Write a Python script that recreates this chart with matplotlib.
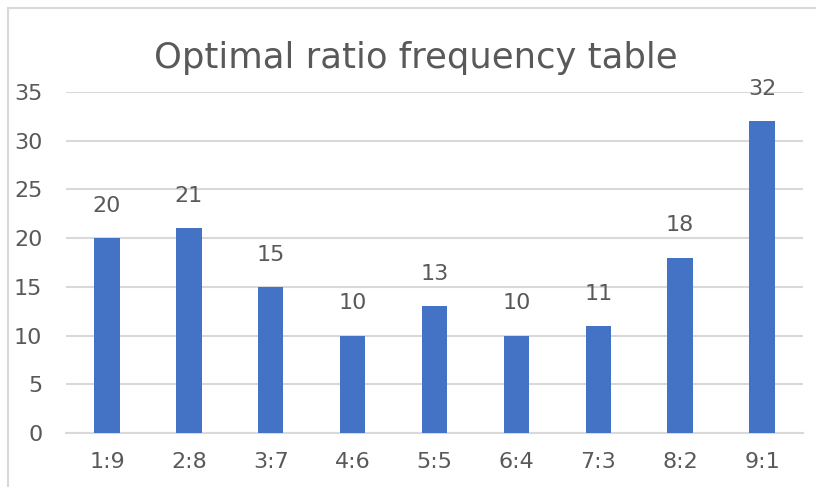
import matplotlib.pyplot as plt
from matplotlib.patches import Rectangle

ratios = ['1:9', '2:8', '3:7', '4:6', '5:5', '6:4', '7:3', '8:2', '9:1']
counts = [20, 21, 15, 10, 13, 10, 11, 18, 32]
yticks = [0, 5, 10, 15, 20, 25, 30, 35]

text_col = '#595959'
grid_col = '#d9d9d9'
bar_col = '#4472c4'

plt.rcParams['font.family'] = ['DejaVu Sans']

fig = plt.figure(figsize=(8.16, 4.87), dpi=100)
ax = fig.add_axes([66/816, 54/487, 737/816, 341/487])

x = range(len(ratios))
bars = ax.bar(x, counts, width=0.31, color=bar_col, zorder=3)
for b, v in zip(bars, counts):
    ax.annotate(str(v), (b.get_x() + b.get_width()/2, v), xytext=(0, 16), textcoords='offset points',
                ha='center', va='bottom', fontsize=16, color=text_col)

ax.set_xlim(-0.5, len(ratios) - 0.5)
ax.set_ylim(0, 35)
ax.set_yticks(yticks)
ax.set_xticks(list(x))
ax.set_xticklabels(ratios)
ax.yaxis.grid(True, color=grid_col, linewidth=1.5, zorder=0)
for s in ['top', 'right', 'left']:
    ax.spines[s].set_visible(False)
ax.spines['bottom'].set_color(grid_col)
ax.spines['bottom'].set_linewidth(1.5)
ax.tick_params(axis='both', length=0, labelsize=16, labelcolor=text_col)
ax.tick_params(axis='y', pad=17)
ax.tick_params(axis='x', pad=14)

fig.text(416/816, 1 - 58/487, 'Optimal ratio frequency table', ha='center', va='center',
         fontsize=25.5, color=text_col)

# light outer frame, only its top and left edges fall inside the picture
fig.patches.append(Rectangle((8/816, -0.5), 2, 1.5 - 8/487, transform=fig.transFigure,
                             fill=False, edgecolor=grid_col, linewidth=1.5))

fig.savefig('out.png', dpi=100)
